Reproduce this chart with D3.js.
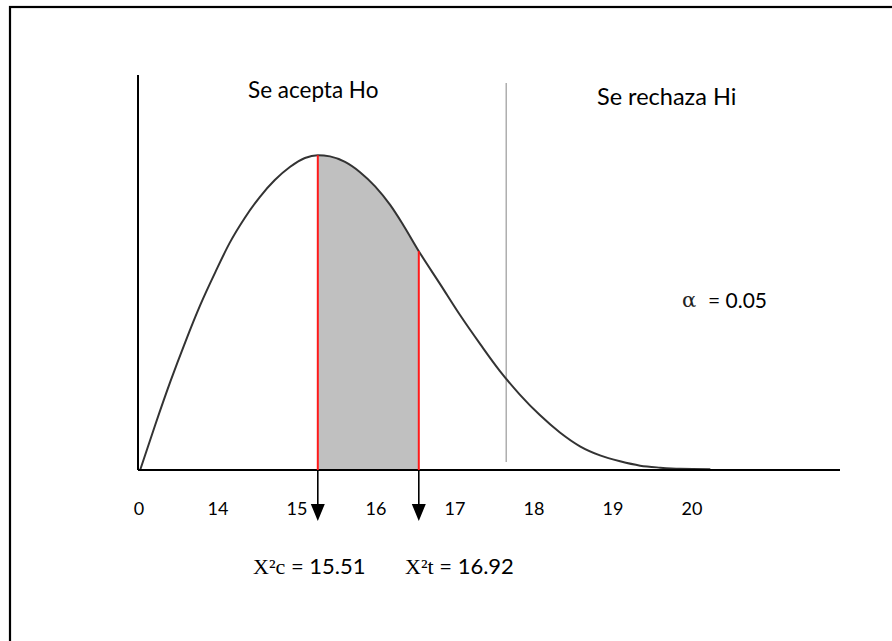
<!DOCTYPE html>
<html>
<head>
<meta charset="utf-8">
<script src="https://cdn.jsdelivr.net/npm/d3@7"></script>
<style>
  html, body { margin: 0; padding: 0; background: #fff; }
  svg { display: block; }
</style>
</head>
<body>
<svg id="chart" width="892" height="641"></svg>
<script>
// Axis labels written under the horizontal axis (evenly spaced, schematic)
const tickLabels = ["0", "14", "15", "16", "17", "18", "19", "20"];

// Density curve, sampled points: chi-square value and relative height
const curveX = [13.03, 13.24, 13.45, 13.66, 13.87, 14.08, 14.28, 14.49, 14.70, 14.91,
                15.12, 15.33, 15.51, 15.68, 15.89, 16.10, 16.31, 16.52, 16.70, 16.92,
                17.22, 17.50, 17.78, 18.05, 18.33, 18.61, 18.89, 19.17, 19.45, 19.73,
                20.01, 20.29, 20.57, 20.99];
const curveY = [0.000, 0.114, 0.223, 0.324, 0.418, 0.501, 0.575, 0.638, 0.691, 0.734,
                0.767, 0.790, 0.797, 0.794, 0.780, 0.754, 0.718, 0.671, 0.621, 0.554,
                0.470, 0.391, 0.318, 0.251, 0.191, 0.139, 0.095, 0.060, 0.037, 0.022,
                0.011, 0.006, 0.003, 0.002];

// Computed and table statistics
const chiCalc = 15.51;
const chiTable = 16.92;
// Boundary between acceptance and rejection regions
const boundaryX = 18.14;
const boundaryExtent = [0.02, 0.98];
const alpha = 0.05;

const regionLabels = ["Se acepta Ho", "Se rechaza Hi"];

const svg = d3.select("#chart");

const x = d3.scaleLinear().domain([13, 22.8]).range([138, 840]);
const y = d3.scaleLinear().domain([0, 1]).range([470, 75]);
const tickPos = d3.scalePoint().domain(tickLabels).range([139, 692]);

const pts = curveX.map((v, i) => ({ v, d: curveY[i] }));
const heightAt = v => pts.find(p => Math.abs(p.v - v) < 1e-9).d;

// Outer frame
svg.append("rect")
  .attr("x", 10).attr("y", 7)
  .attr("width", 1000).attr("height", 1000)
  .attr("fill", "none")
  .attr("stroke", "#000")
  .attr("stroke-width", 2.2);

// Shaded region between the two statistics
svg.append("clipPath").attr("id", "band")
  .append("rect")
  .attr("x", x(chiCalc)).attr("y", 0)
  .attr("width", x(chiTable) - x(chiCalc)).attr("height", 641);

const area = d3.area()
  .x(p => x(p.v)).y0(y(0)).y1(p => y(p.d))
  .curve(d3.curveMonotoneX);

svg.append("path")
  .datum(pts)
  .attr("clip-path", "url(#band)")
  .attr("fill", "#c0c0c0")
  .attr("d", area);

// Rejection boundary
svg.append("line")
  .attr("x1", x(boundaryX)).attr("x2", x(boundaryX))
  .attr("y1", y(boundaryExtent[0])).attr("y2", y(boundaryExtent[1]))
  .attr("stroke", "#9a9a9a")
  .attr("stroke-width", 1.2);

// Density curve
const line = d3.line()
  .x(p => x(p.v)).y(p => y(p.d))
  .curve(d3.curveMonotoneX);

svg.append("path")
  .datum(pts)
  .attr("fill", "none")
  .attr("stroke", "#333")
  .attr("stroke-width", 2)
  .attr("d", line);

// Axes
svg.append("line")
  .attr("x1", x(13)).attr("x2", x(13))
  .attr("y1", y(0)).attr("y2", y(1))
  .attr("stroke", "#000").attr("stroke-width", 2);
svg.append("line")
  .attr("x1", x(13)).attr("x2", x(22.8))
  .attr("y1", y(0)).attr("y2", y(0))
  .attr("stroke", "#000").attr("stroke-width", 2);

// Red markers for the statistics
[chiCalc, chiTable].forEach(v => {
  svg.append("line")
    .attr("x1", x(v)).attr("x2", x(v))
    .attr("y1", y(0)).attr("y2", y(heightAt(v)))
    .attr("stroke", "#ff1a1a").attr("stroke-width", 2);
});

// Arrows pointing down to the statistic labels
[chiCalc, chiTable].forEach(v => {
  const cx = x(v);
  svg.append("line")
    .attr("x1", cx).attr("x2", cx)
    .attr("y1", y(0)).attr("y2", 508)
    .attr("stroke", "#000").attr("stroke-width", 1.6);
  svg.append("path")
    .attr("d", `M${cx - 7},504 L${cx + 7},504 L${cx},521 Z`)
    .attr("fill", "#000");
});

// Tick labels
svg.append("g").selectAll("text")
  .data(tickLabels)
  .join("text")
  .attr("x", d => tickPos(d))
  .attr("y", 515)
  .attr("text-anchor", "middle")
  .attr("font-family", "Lato, 'Open Sans', sans-serif")
  .attr("font-size", 18)
  .attr("fill", "#000")
  .text(d => d);

// Region headings
svg.append("text")
  .attr("x", 248).attr("y", 98)
  .attr("font-family", "Lato, 'Open Sans', sans-serif")
  .attr("font-size", 22.5)
  .attr("fill", "#000")
  .text(regionLabels[0]);
svg.append("text")
  .attr("x", 597).attr("y", 105)
  .attr("font-family", "Lato, 'Open Sans', sans-serif")
  .attr("font-size", 23.5)
  .attr("fill", "#000")
  .text(regionLabels[1]);

// Significance level
svg.append("text")
  .attr("x", 682).attr("y", 307)
  .attr("font-family", "'DejaVu Serif', serif")
  .attr("font-size", 21)
  .attr("font-weight", 300)
  .attr("fill", "#222")
  .text("α");
svg.append("text")
  .attr("x", 708).attr("y", 308)
  .attr("font-family", "Lato, 'Open Sans', sans-serif")
  .attr("font-size", 21)
  .attr("fill", "#000")
  .text("= " + alpha.toFixed(2));

// Statistic labels
function statLabel(x0, sub, value) {
  const t = svg.append("text")
    .attr("x", x0).attr("y", 574)
    .attr("font-size", 22)
    .attr("fill", "#000");
  t.append("tspan")
    .attr("font-family", "'Liberation Serif', 'Times New Roman', serif")
    .text("X²" + sub);
  t.append("tspan")
    .attr("font-family", "Lato, 'Open Sans', sans-serif")
    .text(" = " + value.toFixed(2));
}
statLabel(253, "c", chiCalc);
statLabel(405, "t", chiTable);
</script>
</body>
</html>
